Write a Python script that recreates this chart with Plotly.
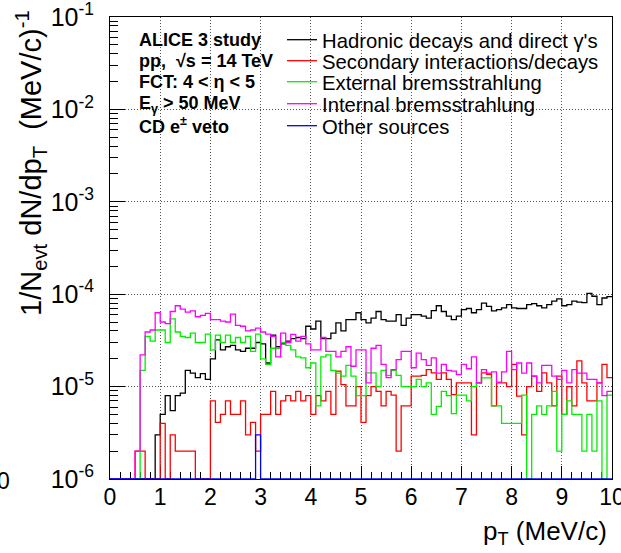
import numpy as np
import plotly.graph_objects as go

# ---------------- data ----------------
N_BINS = 100
PT_MIN, PT_MAX = 0.0, 10.0

hadronic = [
    0, 0, 0, 0, 0, 0, 0, 0, 0, 3.0e-6,
    5.0e-6, 8.0e-6, 5.5e-6, 8.0e-6, 8.5e-6, 1.5e-5, 1.4e-5, 1.25e-5, 1.38e-5, 1.2e-5,
    2.0e-5, 3.2e-5, 2.5e-5, 2.7e-5, 2.8e-5, 2.5e-5, 2.4e-5, 2.6e-5, 2.6e-5, 3.0e-5,
    2.9e-5, 1.8e-5, 3.6e-5, 2.7e-5, 2.9e-5, 3.1e-5, 3.3e-5, 3.4e-5, 3.3e-5, 4.5e-5,
    4.2e-5, 5.1e-5, 3.3e-5, 3.3e-5, 3.8e-5, 4.9e-5, 4.0e-5, 5.3e-5, 5.3e-5, 6.3e-5,
    5.3e-5, 4.9e-5, 5.5e-5, 6.5e-5, 5.3e-5, 5.1e-5, 5.1e-5, 6.0e-5, 4.6e-5, 5.5e-5,
    6.0e-5, 6.0e-5, 5.8e-5, 5.5e-5, 6.65e-5, 7.5e-5, 6.5e-5, 5.8e-5, 5.3e-5, 5.8e-5,
    6.8e-5, 7.0e-5, 6.3e-5, 6.8e-5, 8.0e-5, 7.4e-5, 6.6e-5, 6.8e-5, 7.1e-5, 7.7e-5,
    7.1e-5, 7.0e-5, 7.0e-5, 7.7e-5, 7.9e-5, 7.5e-5, 7.1e-5, 7.7e-5, 8.4e-5, 8.9e-5,
    7.5e-5, 7.7e-5, 8.4e-5, 8.2e-5, 8.1e-5, 1.02e-4, 9.5e-5, 7.7e-5, 9.1e-5, 9.4e-5,
]

secondary = [
    0, 0, 0, 0, 0, 2e-6, 2e-6, 0, 0, 0,
    4e-6, 0, 3e-6, 2e-6, 2e-6, 2e-6, 2e-6, 0, 0, 0,
    7e-6, 4.1e-6, 5e-6, 7e-6, 5e-6, 5e-6, 7e-6, 3e-6, 4.1e-6, 2e-6,
    5e-6, 5e-6, 8.9e-6, 5e-6, 7e-6, 8e-6, 7e-6, 8.9e-6, 7e-6, 8e-6,
    5e-6, 8e-6, 7e-6, 8.9e-6, 5e-6, 1.47e-5, 1.05e-5, 6.2e-6, 6.2e-6, 1.0e-5,
    4.1e-6, 8.0e-6, 1.0e-5, 8.9e-6, 6.2e-6, 8.9e-6, 8.1e-6, 2.0e-6, 6.2e-6, 6.2e-6,
    1.3e-5, 1.3e-5, 1.32e-5, 1.53e-5, 1.41e-5, 1.2e-5, 1.41e-5, 1.2e-5, 8.2e-6, 1.1e-5,
    1.1e-5, 1.1e-5, 3.0e-6, 1.1e-5, 1.41e-5, 1.36e-5, 6.2e-6, 1.1e-5, 1.1e-5, 1.0e-5,
    1.74e-5, 7.9e-6, 3.0e-6, 1.0e-5, 1.3e-5, 8.9e-6, 1.41e-5, 1.1e-5, 6.2e-6, 1.3e-5,
    5.0e-6, 1.0e-5, 6.2e-6, 1.9e-5, 1.1e-5, 7.0e-6, 7.0e-6, 1.1e-5, 1.74e-5, 1.25e-5,
]

external_brems = [
    0, 0, 0, 0, 0, 0, 1.5e-5, 3.5e-5, 3.1e-5, 4.1e-5,
    4.1e-5, 3.0e-5, 5.4e-5, 3.9e-5, 3.5e-5, 3.4e-5, 3.8e-5, 3.0e-5, 3.0e-5, 3.7e-5,
    2.5e-5, 3.6e-5, 3.0e-5, 3.6e-5, 3.0e-5, 3.4e-5, 3.0e-5, 3.5e-5, 2.4e-5, 3.7e-5,
    2.0e-5, 1.74e-5, 2.6e-5, 2.6e-5, 3.0e-5, 2.8e-5, 2.5e-5, 2.1e-5, 2.05e-5, 1.6e-5,
    1.8e-5, 6.2e-6, 2.1e-5, 2.2e-5, 1.5e-5, 1.4e-5, 1.3e-5, 1.7e-5, 1.3e-5, 8.0e-6,
    8.0e-6, 1.41e-5, 1.41e-5, 1.0e-5, 1.5e-5, 1.32e-5, 1.5e-5, 1.32e-5, 1.0e-5, 1.0e-5,
    1.0e-5, 1.2e-5, 1.0e-5, 1.1e-5, 5.0e-6, 6.1e-6, 8.9e-6, 8.0e-6, 5.1e-6, 8.1e-6,
    8.1e-6, 7.0e-6, 1.0e-5, 1.1e-5, 1.24e-5, 1.24e-5, 6.2e-6, 6.2e-6, 4.0e-6, 4.0e-6,
    4.0e-6, 4.0e-6, 8.1e-6, 0, 5.0e-6, 6.2e-6, 5.0e-6, 6.2e-6, 8.9e-6, 2.0e-6,
    5.0e-6, 7.0e-6, 5.0e-6, 5.0e-6, 2.0e-6, 5.0e-6, 2.0e-6, 7.0e-6, 0, 8.1e-6,
]

internal_brems = [
    0, 0, 0, 0, 0, 2e-6, 2.2e-5, 3.9e-5, 4.1e-5, 6.3e-5,
    5.0e-5, 4.8e-5, 6.5e-5, 7.5e-5, 6.9e-5, 6.4e-5, 6.6e-5, 5.7e-5, 5.9e-5, 6.2e-5,
    5.3e-5, 5.3e-5, 5.1e-5, 5.0e-5, 6.1e-5, 4.6e-5, 4.5e-5, 4.0e-5, 4.1e-5, 4.3e-5,
    3.9e-5, 3.7e-5, 3.5e-5, 2.1e-5, 3.8e-5, 3.0e-5, 3.67e-5, 3.1e-5, 3.5e-5, 2.9e-5,
    2.5e-5, 2.5e-5, 3.4e-5, 2.4e-5, 2.4e-5, 2.1e-5, 2.4e-5, 2.7e-5, 1.66e-5, 2.5e-5,
    2.5e-5, 1.1e-5, 2.6e-5, 2.8e-5, 1.74e-5, 1.25e-5, 1.53e-5, 1.96e-5, 2.4e-5, 2.4e-5,
    1.6e-5, 2.3e-5, 1.96e-5, 1.7e-5, 2.05e-5, 1.4e-5, 1.74e-5, 1.5e-5, 1.47e-5, 1.35e-5,
    1.74e-5, 1.56e-5, 2.1e-5, 1.1e-5, 1.53e-5, 1.4e-5, 1.44e-5, 1.12e-5, 1.44e-5, 2.4e-5,
    1.53e-5, 1.8e-5, 1.4e-5, 1.8e-5, 1.3e-5, 1.1e-5, 1.7e-5, 1.7e-5, 1.3e-5, 1.2e-5,
    1.5e-5, 1.1e-5, 1.53e-5, 1.4e-5, 1.4e-5, 1.2e-5, 1.2e-5, 1.1e-5, 8e-6, 8.9e-6,
]

other_sources = [0] * 29 + [3e-6] + [0] * 70

series_names = [
    "Hadronic decays and direct γ's",
    "Secondary interactions/decays",
    "External bremsstrahlung",
    "Internal bremsstrahlung",
    "Other sources",
]

x_tick_vals = [0, 1, 2, 3, 4, 5, 6, 7, 8, 9, 10]
x_tick_text = ["0", "1", "2", "3", "4", "5", "6", "7", "8", "9", "10"]
y_tick_vals = [1e-6, 1e-5, 1e-4, 1e-3, 1e-2, 1e-1]
y_tick_text = ["10<sup>-6</sup>", "10<sup>-5</sup>", "10<sup>-4</sup>",
               "10<sup>-3</sup>", "10<sup>-2</sup>", "10<sup>-1</sup>"]
y_minor_vals = [m * d for d in [1e-6, 1e-5, 1e-4, 1e-3, 1e-2] for m in range(2, 10)]

info_lines = [
    "ALICE 3 study",
    "pp,  √s = 14 TeV",
    "FCT: 4 &lt; η &lt; 5",
    "E<sub>γ</sub> &gt; 50 MeV",
    "CD e<sup>±</sup> veto",
]

# ---------------- styling ----------------
colors = ["#000000", "#ff0000", "#00ee00", "#ff00ff", "#0000ff"]
Y_FLOOR = 1e-6          # empty bins drawn on the frame bottom (ROOT style)
FONT = "Liberation Sans, Arial, Helvetica, sans-serif"

W, H = 621, 553
L, R, T, B = 110, 9, 17, 74
PW, PH = W - L - R, H - T - B


def px_x(px):
    return (px - L) / PW


def px_y(py):
    return (H - B - py) / PH


edges = np.linspace(PT_MIN, PT_MAX, N_BINS + 1)

fig = go.Figure()
all_series = [hadronic, secondary, external_brems, internal_brems, other_sources]
legend_ids = ["legend", "legend2", "legend3", "legend4", "legend5"]
row_y = [40, 61, 82, 104, 126]

for vals, name, col, lid in zip(all_series, series_names, colors, legend_ids):
    v = np.asarray(vals, dtype=float)
    v = np.where(v > 0, v, Y_FLOOR)
    y = np.append(v, v[-1])
    fig.add_trace(go.Scatter(
        x=edges, y=y, mode="lines", name=name, legend=lid,
        line=dict(color=col, width=1.3, shape="hv"),
        hoverinfo="skip",
    ))

layout_legends = {}
for lid, ry in zip(legend_ids, row_y):
    layout_legends[lid] = dict(
        x=px_x(282), y=px_y(ry), xanchor="left", yanchor="middle",
        bgcolor="rgba(0,0,0,0)", borderwidth=0,
        font=dict(family=FONT, size=20.3, color="black"),
        itemwidth=30,
    )

annotations = []
for txt, ry in zip(info_lines, row_y):
    annotations.append(dict(
        text="<b>" + txt + "</b>", x=px_x(137), y=px_y(ry),
        xref="paper", yref="paper", xanchor="left", yanchor="middle",
        showarrow=False, font=dict(family=FONT, size=18, color="black"),
    ))

# axis titles (ROOT style: aligned to the far ends of the axes)
annotations.append(dict(
    text="1/N<sub>evt</sub> dN/dp<sub>T</sub>  (MeV/c)<sup>-1</sup>",
    x=px_x(31), y=px_y(8), xref="paper", yref="paper",
    xanchor="center", yanchor="top", textangle=-90, showarrow=False,
    font=dict(family=FONT, size=29, color="black"),
))
annotations.append(dict(
    text="p<sub>T</sub> (MeV/c)",
    x=px_x(609), y=px_y(532), xref="paper", yref="paper",
    xanchor="right", yanchor="middle", showarrow=False,
    font=dict(family=FONT, size=26, color="black"),
))
# stray label from the neighbouring panel at the left edge
annotations.append(dict(
    text="0", x=px_x(3), y=px_y(481), xref="paper", yref="paper",
    xanchor="center", yanchor="middle", showarrow=False,
    font=dict(family=FONT, size=23, color="black"),
))

grid_kw = dict(showgrid=True, gridcolor="#555555", gridwidth=1, griddash="1px,2px")

fig.update_layout(
    width=W, height=H,
    margin=dict(l=L, r=R, t=T, b=B, pad=0, autoexpand=False),
    plot_bgcolor="white", paper_bgcolor="white",
    font=dict(family=FONT, color="black"),
    showlegend=True,
    annotations=annotations,
    **layout_legends,
)

fig.update_xaxes(
    range=[PT_MIN, PT_MAX], tickmode="array", tickvals=x_tick_vals, ticktext=x_tick_text,
    ticks="inside", ticklen=13, tickwidth=1, tickcolor="black",
    showline=True, linecolor="black", linewidth=1, mirror=True, zeroline=False,
    tickfont=dict(family=FONT, size=23, color="black"), ticklabelstandoff=-3,
    ticklabeloverflow="allow", automargin=False,
    minor=dict(ticks="inside", ticklen=7, tickwidth=1, tickcolor="black",
               tick0=0, dtick=0.2, showgrid=False),
    layer="below traces",
    **grid_kw,
)
fig.update_yaxes(
    type="log", range=[-6, -1], tickmode="array", tickvals=y_tick_vals, ticktext=y_tick_text,
    ticks="inside", ticklen=15, tickwidth=1, tickcolor="black",
    showline=True, linecolor="black", linewidth=1, mirror=True, zeroline=False,
    tickfont=dict(family=FONT, size=25, color="black"), ticklabelstandoff=10,
    ticklabeloverflow="allow", automargin=False,
    minor=dict(ticks="inside", ticklen=8, tickwidth=1, tickcolor="black",
               tickmode="array", tickvals=y_minor_vals, showgrid=False),
    layer="below traces",
    **grid_kw,
)

fig.write_html(
    "out.html",
    config={"displayModeBar": False, "staticPlot": True},
    post_script="document.body.style.margin='0px';document.body.style.overflow='hidden';",
)
